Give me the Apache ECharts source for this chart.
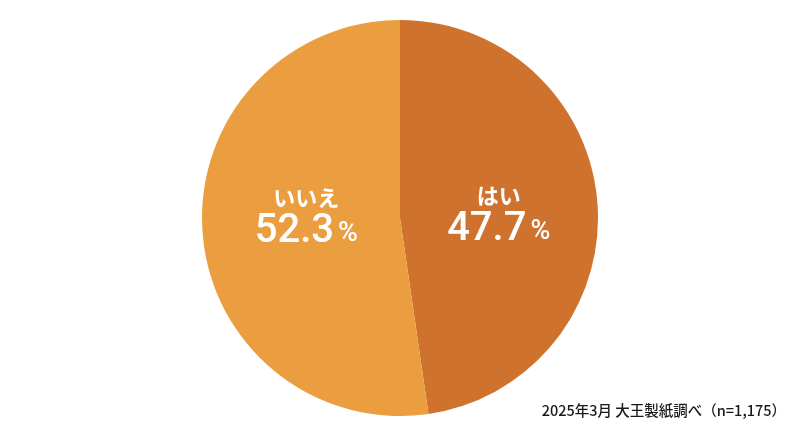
<!DOCTYPE html>
<html><head><meta charset="utf-8">
<script src="https://cdn.jsdelivr.net/npm/echarts@6/dist/echarts.min.js"></script>
<style>html,body{margin:0;padding:0;background:#fff}#c{width:800px;height:440px}</style>
</head><body><div id="c"></div>
<script>
const categories = ['はい', 'いいえ'];
const values = [47.7, 52.3];
const colors = ['#CF722E', '#EB9E3F'];
const note = '2025年3月 大王製紙調べ（n=1,175）';
const labelOffsets = [[-3, 3], [8, -10]];

const chart = echarts.init(document.getElementById('c'), null, {renderer: 'canvas'});
const ff = '"Noto Sans CJK JP", "Noto Sans", sans-serif';
const fr = 'Roboto, "Noto Sans CJK JP", sans-serif';
chart.setOption({
  animation: false,
  backgroundColor: '#ffffff',
  graphic: [{
    type: 'text', right: 14, top: 403,
    style: {text: note, fontSize: 14.5, fontWeight: 500, fill: '#1a1a1a', fontFamily: ff}
  }],
  series: [{
    type: 'pie',
    center: [400, 218],
    radius: [0, 198],
    startAngle: 90,
    clockwise: true,
    silent: true,
    label: {
      position: 'inside',
      formatter: p => '{n|' + p.name + '}\n{v|' + p.value.toFixed(1) + '}{p|%}',
      fontFamily: ff,
      color: '#fff',
      rich: {
        n: {fontSize: 22, fontWeight: 'bold', color: '#fff', lineHeight: 33, align: 'center', fontFamily: ff},
        v: {fontSize: 40, fontWeight: 500, color: '#fff', lineHeight: 36, fontFamily: fr},
        p: {fontSize: 27, fontWeight: 500, color: '#fff', lineHeight: 36, padding: [5, 0, 0, 4], fontFamily: fr}
      }
    },
    labelLine: {show: false},
    itemStyle: {borderWidth: 0},
    data: categories.map((c, i) => ({
      name: c, value: values[i],
      itemStyle: {color: colors[i]},
      label: {offset: labelOffsets[i]}
    }))
  }]
});
</script></body></html>
